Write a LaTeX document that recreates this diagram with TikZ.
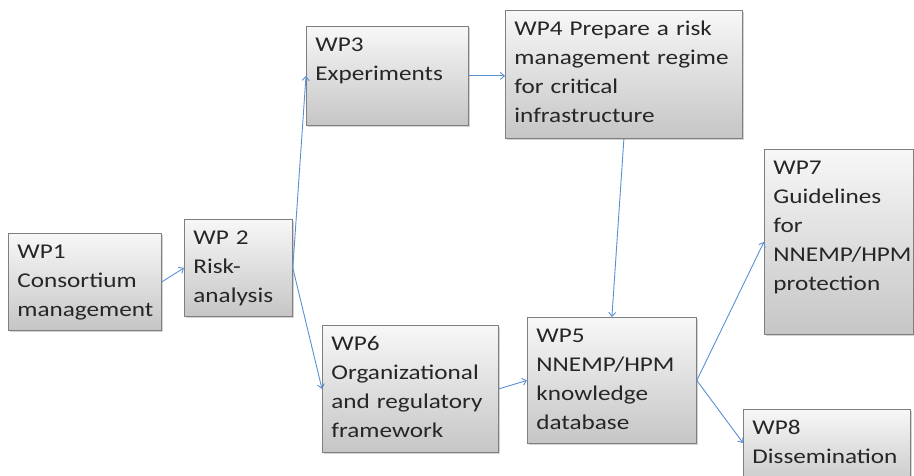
\documentclass[tikz,border=0pt]{standalone}
\usepackage{fontspec}
\newfontfamily\wpfont[FakeStretch=1.2]{Carlito}
\usepackage{tikz}
\usetikzlibrary{arrows.meta,shadows}
\definecolor{linkblue}{HTML}{5B8FD4}
\definecolor{boxline}{HTML}{7F7F7F}

\begin{document}
\begin{tikzpicture}[x=1pt,y=-1pt,
    wp/.style={draw=boxline, line width=0.8pt, top color=gray!6, bottom color=gray!45,
      drop shadow={shadow xshift=2pt, shadow yshift=-2pt, opacity=0.35},
      anchor=north west, align=left, inner xsep=9pt, inner ysep=9pt,
      text height=16pt, font={\wpfont\fontsize{21}{29}\selectfont}, text=black!85},
    link/.style={draw=linkblue, line width=0.9pt, -{Straight Barb[length=4pt,width=7pt]}}]
\useasboundingbox (0,0) rectangle (914,476);
% work packages
\node[wp, text width=135pt, text depth=63pt] at (8,233) (wp1) {WP1\\Consortium\\management};
\node[wp, text width=90pt, text depth=63pt] at (184,219) (wp2) {WP 2\\Risk-\\analysis};
\node[wp, text width=144pt, text depth=65pt] at (306,26) (wp3) {WP3\\Experiments};
\node[wp, text width=219pt, text depth=94pt] at (505,10) (wp4) {WP4 Prepare a risk\\management regime\\for critical\\infrastructure};
\node[wp, text width=158pt, text depth=93pt] at (322,325) (wp6) {WP6\\Organizational\\and regulatory\\framework};
\node[wp, text width=151pt, text depth=92pt] at (527,317) (wp5) {WP5\\NNEMP/HPM\\knowledge\\database};
\node[wp, text width=131pt, text depth=151pt] at (764,149) (wp7) {WP7\\Guidelines\\for\\NNEMP/HPM\\protection};
\node[wp, text width=149pt, text depth=47pt] at (743,409) (wp8) {WP8\\Dissemination};
% links
\draw[link] (wp1.east) -- (wp2.west);
\draw[link] (wp2.east) -- (wp3.west);
\draw[link] (wp2.east) -- (wp6.west);
\draw[link] (wp3.east) -- (wp3.east -| wp4.west);
\draw[link] (wp4.south) -- (wp5.north);
\draw[link] (wp6.east) -- (wp5.west);
\draw[link] (wp5.east) -- (wp7.west);
\draw[link] (wp5.east) -- ([yshift=7pt]wp8.west);
\end{tikzpicture}
\end{document}
